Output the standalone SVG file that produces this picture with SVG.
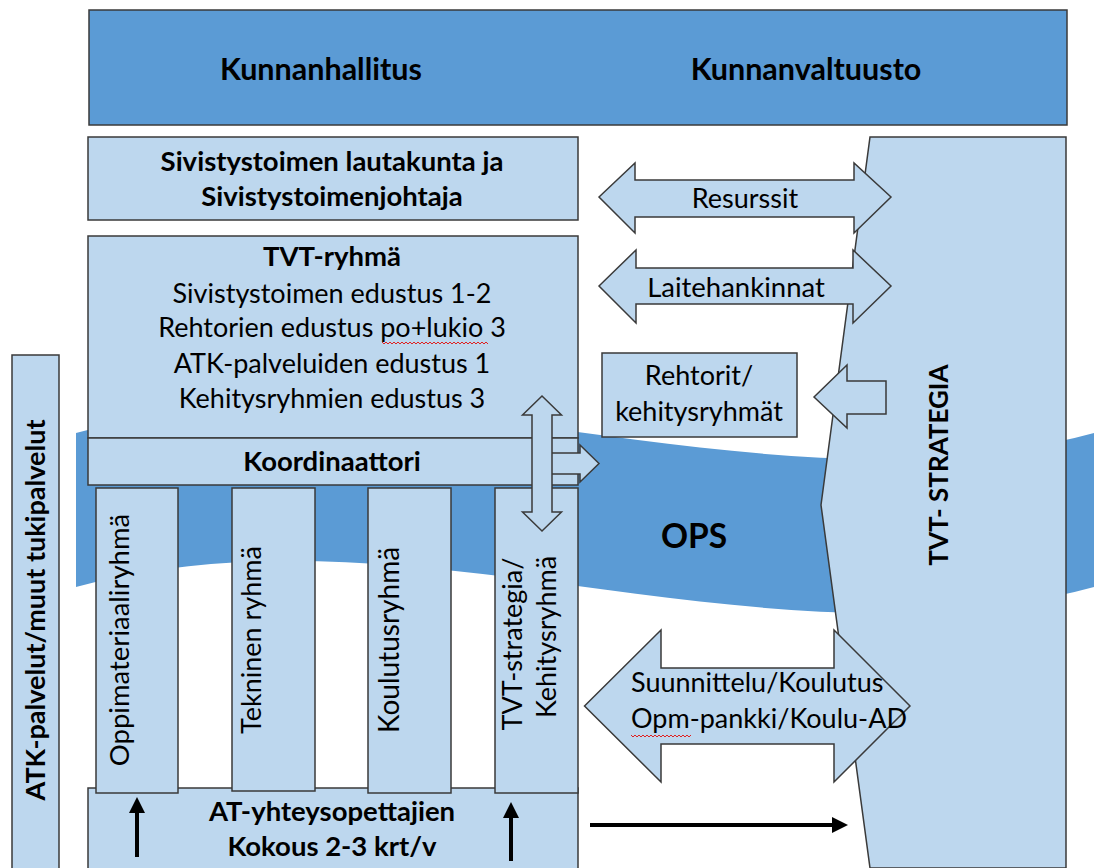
<svg xmlns="http://www.w3.org/2000/svg" width="1094" height="868" viewBox="0 0 1094 868">
  <style>
    .box { fill: #BDD7EE; stroke: #3A3A3A; stroke-width: 1.5; }
    .dark { fill: #5B9BD5; stroke: #3A3A3A; stroke-width: 1.5; }
    .band { fill: #5B9BD5; stroke: none; }
    .arrow { fill: #BDD7EE; stroke: #3A3A3A; stroke-width: 1.5; stroke-linejoin: miter; }
    .flow { stroke: #000; stroke-width: 4; fill: none; marker-end: url(#head); }
    .t { font-family: Lato, "Liberation Sans", sans-serif; font-size: 27px; fill: #000; text-anchor: middle; }
    .b { font-weight: bold; font-size: 27.5px; }
    .left { text-anchor: start; }
    .squiggle { fill: none; stroke: #E02020; stroke-width: 1; }
  </style>
  <defs>
    <marker id="head" viewBox="0 0 10 10" refX="6.25" refY="5" markerWidth="16" markerHeight="17" markerUnits="userSpaceOnUse" orient="auto">
      <path d="M0,0 L10,5 L0,10 Z" fill="#000"/>
    </marker>
  </defs>

  <rect width="1094" height="868" fill="#FFFFFF"/>

  <!-- OPS wave band across the whole width -->
  <g id="ops">
    <path class="band" d="M76,433 C415.3,343 754.7,523 1094,433 L1094,587 C754.7,677 415.3,497 76,587 Z"/>
    <text class="t b" x="694" y="548" style="font-size:33.5px">OPS</text>
  </g>

  <!-- Top banner -->
  <g id="kunta">
    <rect class="dark" x="89" y="10" width="978" height="115"/>
    <text class="t b" x="321" y="80" style="font-size:30.5px">Kunnanhallitus</text>
    <text class="t b" x="806" y="80" style="font-size:30.5px">Kunnanvaltuusto</text>
  </g>

  <!-- Strategy column on the right -->
  <g id="tvt-strategia">
    <polygon class="box" points="870,137 1066,137 1066,868 870,868 821,505"/>
    <text class="t b" transform="translate(948,465) rotate(-90)" style="font-size:26px">TVT- STRATEGIA</text>
  </g>

  <!-- Support services strip on the left -->
  <g id="atk">
    <rect class="box" x="12" y="355" width="47" height="520"/>
    <text class="t b" transform="translate(45,610) rotate(-90)" style="font-size:27px">ATK-palvelut/muut tukipalvelut</text>
  </g>

  <g id="sivistys">
    <rect class="box" x="88" y="137" width="490" height="83"/>
    <text class="t b" x="332" y="171">Sivistystoimen lautakunta ja</text>
    <text class="t b" x="332" y="206">Sivistystoimenjohtaja</text>
  </g>

  <g id="tvt-ryhma">
    <rect class="box" x="88" y="236" width="490" height="202"/>
    <text class="t b" x="332" y="266">TVT-ryhmä</text>
    <text class="t" x="332" y="303">Sivistystoimen edustus 1-2</text>
    <text class="t" x="332" y="337">Rehtorien edustus po+lukio 3</text>
    <text class="t" x="332" y="373">ATK-palveluiden edustus 1</text>
    <text class="t" x="332" y="408">Kehitysryhmien edustus 3</text>
    <path class="squiggle" d="M382,342 l2,2 l2,-2 l2,2 l2,-2 l2,2 l2,-2 l2,2 l2,-2 l2,2 l2,-2 l2,2 l2,-2 l2,2 l2,-2 l2,2 l2,-2 l2,2 l2,-2 l2,2 l2,-2 l2,2 l2,-2 l2,2 l2,-2 l2,2 l2,-2 l2,2 l2,-2 l2,2 l2,-2 l2,2 l2,-2 l2,2 l2,-2 l2,2 l2,-2 l2,2 l2,-2 l2,2 l2,-2 l2,2 l2,-2 l2,2 l2,-2 l2,2 l2,-2 l2,2 l2,-2 l2,2 l2,-2 l2,2 l2,-2 l2,2"/>
  </g>

  <g id="at-yhteys">
    <rect class="box" x="88" y="788" width="490" height="90"/>
    <text class="t b" x="332" y="821">AT-yhteysopettajien</text>
    <text class="t b" x="332" y="856">Kokous 2-3 krt/v</text>
  </g>

  <g id="oppimateriaali">
    <rect class="box" x="96" y="488" width="82" height="305"/>
    <text class="t" transform="translate(128.5,640) rotate(-90)" style="font-size:27.5px">Oppimateriaaliryhmä</text>
  </g>
  <g id="tekninen">
    <rect class="box" x="232" y="488" width="83" height="303"/>
    <text class="t" transform="translate(261,640) rotate(-90)">Tekninen ryhmä</text>
  </g>
  <g id="koulutus">
    <rect class="box" x="368" y="488" width="83" height="305"/>
    <text class="t" transform="translate(399,640) rotate(-90)" style="font-size:28px">Koulutusryhmä</text>
  </g>
  <g id="kehitys">
    <rect class="box" x="495" y="488" width="83" height="305"/>
    <text class="t" transform="translate(522,644) rotate(-90)">TVT-strategia/</text>
    <text class="t" transform="translate(556,637) rotate(-90)">Kehitysryhmä</text>
  </g>

  <g id="koordinaattori">
    <rect class="box" x="88" y="438" width="490" height="47"/>
    <text class="t b" x="332" y="471">Koordinaattori</text>
  </g>

  <g id="rehtorit">
    <rect class="box" x="602" y="353" width="195" height="84"/>
    <text class="t" x="699" y="385">Rehtorit/</text>
    <text class="t" x="699" y="421">kehitysryhmät</text>
  </g>

  <!-- Connectors -->
  <g id="connectors">
    <polygon class="arrow" points="599,197 635,163 635,180 854,180 854,163 891,197 854,233 854,217 635,217 635,233"/>
    <text class="t" x="745" y="208">Resurssit</text>

    <polygon class="arrow" points="599,286 636,250 636,268 853,268 853,250 891,286 853,323 853,304 636,304 636,323"/>
    <text class="t" x="736" y="297" style="font-size:27.5px">Laitehankinnat</text>

    <polygon class="arrow" points="814,397 847,365 847,381 886,381 886,414 847,414 847,428"/>

    <polygon class="arrow" points="540,453 580,453 580,445 599,463.5 580,482 580,474 540,474"/>
    <polygon class="arrow" points="542,396 561.5,415 552,415 552,512 561.5,512 542,531 522.5,512 532,512 532,415 522.5,415"/>

    <polygon class="arrow" points="584.5,706 661,630 661,668 834,668 834,630 910,706 834,782 834,744 661,744 661,782"/>
    <text class="t left" x="631" y="692">Suunnittelu/Koulutus</text>
    <text class="t left" x="631" y="728">Opm-pankki/Koulu-AD</text>
    <path class="squiggle" d="M631,735 l2,2 l2,-2 l2,2 l2,-2 l2,2 l2,-2 l2,2 l2,-2 l2,2 l2,-2 l2,2 l2,-2 l2,2 l2,-2 l2,2 l2,-2 l2,2 l2,-2 l2,2 l2,-2 l2,2 l2,-2 l2,2 l2,-2 l2,2 l2,-2 l2,2 l2,-2 l2,2 l2,-2"/>

    <line class="flow" x1="137" y1="857" x2="137" y2="803"/>
    <line class="flow" x1="511" y1="861" x2="511" y2="808"/>
    <line class="flow" x1="590" y1="825" x2="842" y2="825"/>
  </g>
</svg>
